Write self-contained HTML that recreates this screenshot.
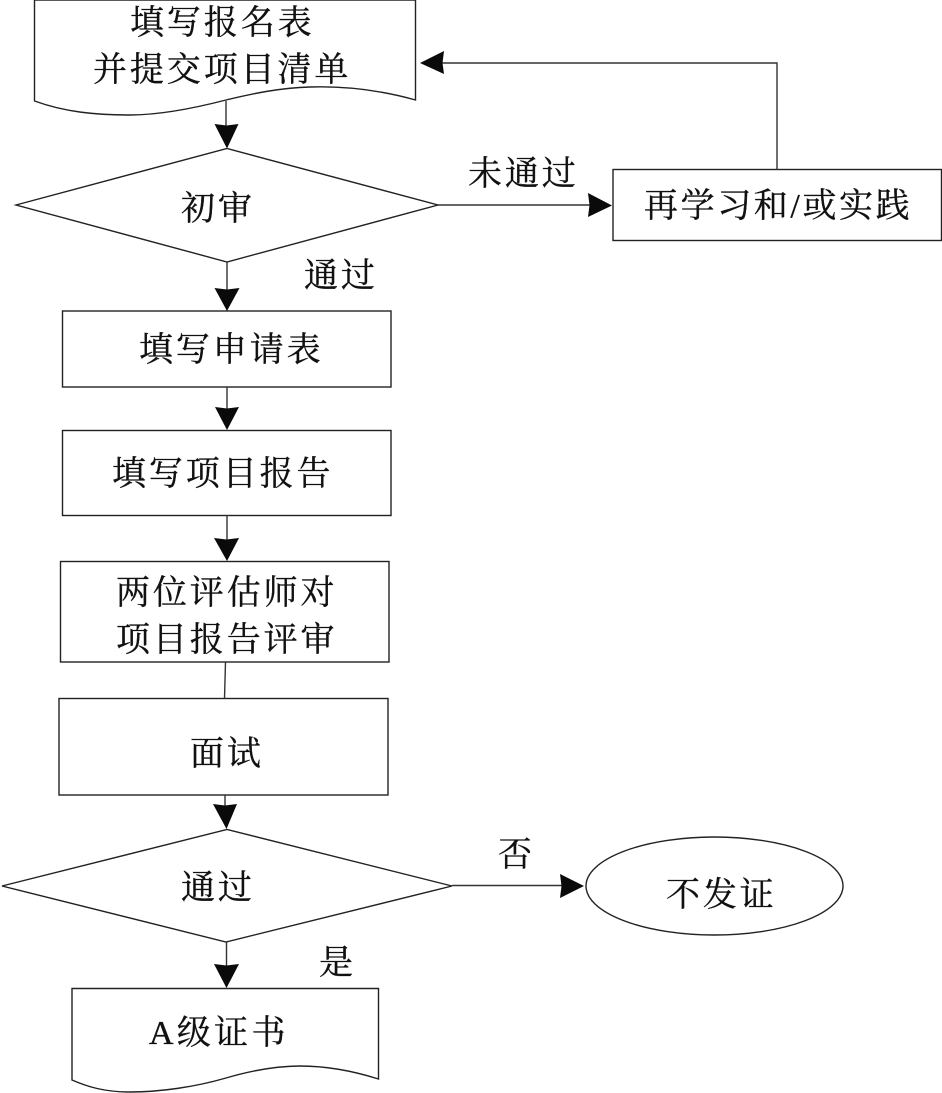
<!DOCTYPE html>
<html lang="zh"><head><meta charset="utf-8"><title>流程图</title>
<style>
html,body{margin:0;padding:0;background:#fff}
svg{display:block}
text{font-family:"Liberation Serif","Noto Serif CJK SC",serif;font-size:34px;fill:#111;stroke:#111;stroke-width:.35;letter-spacing:2.900px}
.s{fill:#fff;stroke:#222;stroke-width:1.4}
.l{fill:none;stroke:#333;stroke-width:1.4}
.a{fill:#0a0a0a;stroke:none}
</style></head><body>
<svg width="942" height="1093" viewBox="0 0 942 1093" xmlns="http://www.w3.org/2000/svg">
<path class="s" d="M34.500 0H415.500V100C380 90 345 86 310 87C280 88 255 93 226 100C195 108 160 115 130 115C95 115 65 112 34.500 101Z"/>
<polygon class="s" points="16,205 227,148.500 438,205 227,262"/>
<rect class="s" x="62.500" y="311" width="328.500" height="76"/>
<rect class="s" x="62.500" y="430.500" width="328.500" height="85"/>
<rect class="s" x="60.500" y="561.500" width="328.500" height="100.500"/>
<rect class="s" x="59" y="698.500" width="329" height="96.500"/>
<polygon class="s" points="2,886 227,829.500 452,886 226,942"/>
<path class="s" d="M72 988.500H378.500V1079C350 1070 325 1066 300 1066C275 1066 250 1071 226 1078C195 1087 160 1092 130 1092C105 1092 88 1087 72 1080Z"/>
<rect class="s" x="613" y="169.500" width="328.500" height="71"/>
<ellipse class="s" cx="714.500" cy="886" rx="128.500" ry="49"/>

<path class="l" d="M226 101V128M227 262V292M227 387V410M227 515V541M225.500 662L224.500 698.500M225 795V808M226.500 942V968"/>
<path class="l" d="M438 205H592M452 885.500H565"/>
<path class="l" d="M777 169.500V63H440"/>

<polygon class="a" points="214.500,124 226.500,125.500 238.500,124 227,148.500"/>
<polygon class="a" points="214.500,288 227,289.500 239.500,288 227,311"/>
<polygon class="a" points="215,407 227,408.500 239,407 227,430"/>
<polygon class="a" points="214,538 226.500,539.500 239,538 227,561"/>
<polygon class="a" points="213,804 225,805.500 237,804 226.500,829"/>
<polygon class="a" points="214,964 226.500,965.500 239,964 226.500,988"/>
<polygon class="a" points="588,193 589.500,205 588,217 612,205.500"/>
<polygon class="a" points="560,874 561.500,886 560,898 584,886"/>
<polygon class="a" points="420,63 444,51 442.500,63 444,74"/>

<text x="130" y="34">填写报名表</text>
<text x="93" y="81">并提交项目清单</text>
<text x="181" y="220">初审</text>
<text x="468" y="185">未通过</text>
<text x="644" y="217" style="letter-spacing:2.600px">再学习和/或实践</text>
<text x="304" y="287">通过</text>
<text x="139" y="361">填写申请表</text>
<text x="112" y="485">填写项目报告</text>
<text x="116" y="604">两位评估师对</text>
<text x="116" y="651">项目报告评审</text>
<text x="190" y="765">面试</text>
<text x="181" y="899">通过</text>
<text x="498" y="866">否</text>
<text x="666" y="906">不发证</text>
<text x="319" y="974">是</text>
<text x="149" y="1044" style="letter-spacing:3.300px">A级证书</text>
</svg>
</body></html>
